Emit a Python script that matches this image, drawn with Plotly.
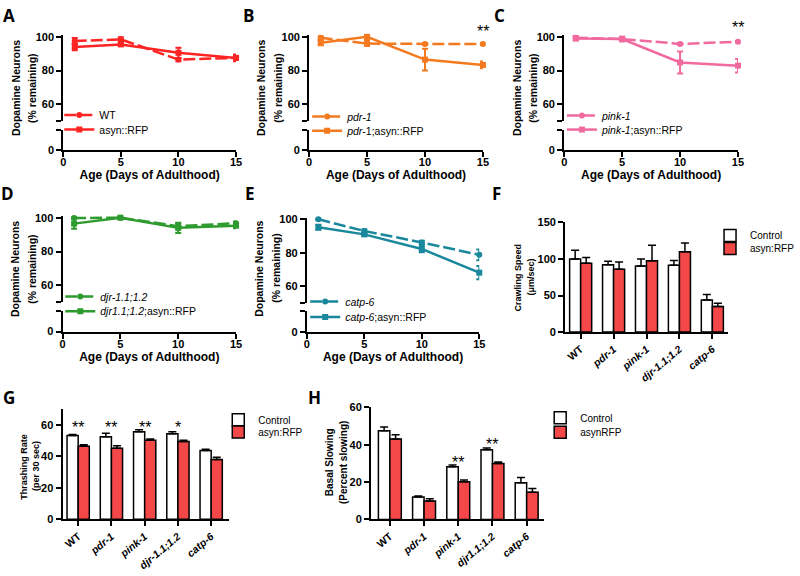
import plotly.graph_objects as go

W, H = 800, 576
def fx(px): return px / W
def fy(py): return 1 - py / H

FONT = "Liberation Sans, Arial, sans-serif"

# ---------------- data ----------------
days = [1, 5, 10, 15]

# Panel A
a_wt = [97.5, 98.5, 86.5, 87.5]
a_wt_err = [1.8, 1.2, 1.0, 1.0]
a_syn = [94.0, 95.5, 90.5, 87.5]
a_syn_err = [2.0, 1.0, 3.0, 2.0]
# Panel B
b_pdr = [99.5, 96.0, 95.8, 95.7]
b_pdr_err = [1.0, 1.5, 0.5, 0.5]
b_syn = [96.5, 100.0, 86.5, 83.3]
b_syn_err = [1.5, 2.0, 6.5, 2.0]
# Panel C
c_pink = [99.5, 98.7, 95.8, 97.1]
c_pink_err = [1.0, 1.0, 0.5, 0.5]
c_syn = [99.0, 98.7, 84.8, 82.9]
c_syn_err = [1.0, 1.5, 6.5, 4.0]
# Panel D
d_djr = [99.8, 100.0, 95.0, 96.7]
d_djr_err = [0.5, 0.5, 1.5, 1.0]
d_syn = [96.5, 100.0, 94.0, 95.3]
d_syn_err = [3.0, 0.5, 3.0, 1.5]
# Panel E
e_catp = [100.0, 93.0, 86.2, 78.8]
e_catp_err = [0.5, 1.0, 1.0, 3.2]
e_syn = [95.2, 91.0, 82.3, 68.2]
e_syn_err = [1.5, 1.0, 2.0, 4.0]

strains = ["WT", "pdr-1", "pink-1", "djr-1.1;1.2", "catp-6"]
tick_FG = ["WT", "<i>pdr-1</i>", "<i>pink-1</i>", "<i>djr-1.1;1.2</i>", "<i>catp-6</i>"]
tick_H = ["WT", "<i>pdr-1</i>", "<i>pink-1</i>", "<i>djr1.1;1.2</i>", "<i>catp-6</i>"]

# Panel F crawling speed
f_ctrl = [100.0, 92.0, 90.5, 91.5, 44.0]
f_ctrl_err = [12.0, 5.0, 9.5, 6.5, 7.5]
f_syn = [94.0, 86.0, 97.6, 109.7, 35.0]
f_syn_err = [8.0, 9.8, 21.0, 12.0, 4.4]
# Panel G thrashing
g_ctrl = [53.3, 52.5, 55.7, 54.3, 43.7]
g_ctrl_err = [0.6, 2.2, 1.2, 1.3, 0.8]
g_syn = [46.5, 45.2, 50.2, 49.5, 38.0]
g_syn_err = [0.8, 1.6, 0.8, 0.8, 1.5]
g_stars = ["**", "**", "**", "*"]
g_star_y = [58.5, 58.5, 58.5, 58.5]
# Panel H basal slowing
h_ctrl = [47.5, 12.0, 28.2, 37.3, 19.7]
h_ctrl_err = [2.0, 0.5, 1.0, 1.0, 2.8]
h_syn = [43.1, 9.9, 20.2, 29.9, 14.6]
h_syn_err = [2.3, 1.2, 0.9, 0.9, 2.0]
h_star_cats = ["pink-1", "djr-1.1;1.2"]
h_star_y = [30.5, 40.0]

zeros5 = [0, 0, 0, 0, 0]

col_A = "#FF2424"
col_B = "#F47A20"
col_C = "#F06A9E"
col_D = "#2E9B2E"
col_E = "#1A889C"
RED_BAR = "#F44848"

def xn(i): return "xaxis" if i == 1 else f"xaxis{i}"
def yn(i): return "yaxis" if i == 1 else f"yaxis{i}"
def xr(i): return "x" if i == 1 else f"x{i}"
def yr(i): return "y" if i == 1 else f"y{i}"
def ln(i): return "legend" if i == 1 else f"legend{i}"

axis_common = dict(showgrid=False, zeroline=False, showline=True, linecolor="black",
                   linewidth=2, ticks="outside", ticklen=5, tickwidth=2, tickcolor="black",
                   tickfont=dict(family=FONT, size=11, color="black", weight="bold"))

fig = go.Figure()
layout = dict(width=W, height=H, margin=dict(l=0, r=0, t=0, b=0),
              paper_bgcolor="white", plot_bgcolor="white", showlegend=True,
              barmode="group", bargap=0.33, bargroupgap=0,
              font=dict(family=FONT, color="black"))
annotations = []
leg_count = [0]

def new_legend(px, py, size=10.5):
    leg_count[0] += 1
    name = ln(leg_count[0])
    layout[name] = dict(x=fx(px), y=fy(py), xanchor="left", yanchor="middle",
                        bgcolor="rgba(0,0,0,0)", borderwidth=0, itemwidth=30,
                        font=dict(family=FONT, size=size, color="black"))
    return name

line_panels = [
    dict(xa=1, yu=1, yl=2, xpx=(61, 236), p100=31.5, p50=117.5, lo=(126.2, 147.3), col=col_A,
         names=["WT", "asyn::RFP"], y1=a_wt, e1=a_wt_err, y2=a_syn, e2=a_syn_err,
         legx=57, legy=(111.2, 126.2), tx=(13, 30), ty=84),
    dict(xa=2, yu=3, yl=4, xpx=(310, 486), p100=31.5, p50=117.5, lo=(126.2, 147.3), col=col_B,
         names=["<i>pdr-1</i>", "<i>pdr</i>-1;asyn::RFP"], y1=b_pdr, e1=b_pdr_err, y2=b_syn, e2=b_syn_err,
         legx=308, legy=(112.8, 127.5), tx=(262, 279), ty=84),
    dict(xa=3, yu=5, yl=6, xpx=(568.3, 744.3), p100=31.5, p50=117.5, lo=(126.2, 147.3), col=col_C,
         names=["<i>pink-1</i>", "<i>pink-1</i>;asyn::RFP"], y1=c_pink, e1=c_pink_err, y2=c_syn, e2=c_syn_err,
         legx=566, legy=(111.8, 126.2), tx=(520.3, 537.3), ty=84),
    dict(xa=4, yu=7, yl=8, xpx=(60.3, 236), p100=216.2, p50=302.7, lo=(311.7, 332.5), col=col_D,
         names=["<i>djr-1.1;1.2</i>", "<i>djr1.1;1.2</i>;asyn::RFP"], y1=d_djr, e1=d_djr_err, y2=d_syn, e2=d_syn_err,
         legx=58, legy=(296.8, 311.8), tx=(12.3, 29.3), ty=268.5),
    dict(xa=5, yu=9, yl=10, xpx=(307.7, 482.3), p100=217.8, p50=303.5, lo=(311.7, 333), col=col_E,
         names=["<i>catp-6</i>", "<i>catp-6</i>;asyn::RFP"], y1=e_catp, e1=e_catp_err, y2=e_syn, e2=e_syn_err,
         legx=306, legy=(301.8, 317.5), tx=(259.7, 276.7), ty=268),
]

for p in line_panels:
    unit = (p["p50"] - p["p100"]) / 50.0
    top = p["p100"] - 1.0 * unit
    layout[xn(p["xa"])] = dict(axis_common, domain=[fx(p["xpx"][0]), fx(p["xpx"][1])], range=[0, 15],
                               anchor=yr(p["yl"]), tickvals=[0, 5, 10, 15], ticklabelstandoff=-4,
                               title=dict(text="Age (Days of Adulthood)", standoff=2,
                                          font=dict(family=FONT, size=12, color="black", weight="bold")))
    layout[yn(p["yu"])] = dict(axis_common, domain=[fy(p["p50"]), fy(top)], range=[50, 101],
                               anchor=xr(p["xa"]), tickvals=[50, 60, 80, 100], ticktext=["", "60", "80", "100"])
    layout[yn(p["yl"])] = dict(axis_common, domain=[fy(p["lo"][1]), fy(p["lo"][0])], range=[0, 12],
                               anchor=xr(p["xa"]), tickvals=[0, 12], ticktext=["0", ""])
    series = [(p["y1"], p["e1"], p["names"][0], "12px,4px", "circle", p["legy"][0]),
              (p["y2"], p["e2"], p["names"][1], "solid", "square", p["legy"][1])]
    for vals, errs, nm, dash, sym, ly in series:
        lg = new_legend(p["legx"], ly)
        fig.add_trace(go.Scatter(
            x=days, y=vals, xaxis=xr(p["xa"]), yaxis=yr(p["yu"]), name=nm, legend=lg,
            mode="lines+markers", cliponaxis=False,
            line=dict(color=p["col"], width=2.5, dash=dash),
            marker=dict(symbol=sym, size=6, color=p["col"]),
            error_y=dict(type="data", array=errs, color=p["col"], thickness=2, width=3)))
    # same series bound to the lower (broken) segment; values lie outside its range so nothing shows,
    # but it makes the lower axis segment part of the panel
    fig.add_trace(go.Scatter(x=days, y=p["y2"], xaxis=xr(p["xa"]), yaxis=yr(p["yl"]), mode="lines",
                             line=dict(color=p["col"], width=2.5), showlegend=False, hoverinfo="skip",
                             cliponaxis=True))
    for txt, tx in [("Dopamine Neurons", p["tx"][0]), ("(% remaining)", p["tx"][1])]:
        annotations.append(dict(text=txt, x=fx(tx), y=fy(p["ty"]), xref="paper", yref="paper",
                                textangle=-90, showarrow=False, xanchor="center", yanchor="middle",
                                font=dict(family=FONT, size=10.5, color="black", weight="bold")))

# significance on B and C (above the plotted range, so placed in page coordinates vertically)
annotations.append(dict(text="**", x=15, y=fy(26.3), xref="x2", yref="paper", showarrow=False,
                        yanchor="middle", font=dict(family=FONT, size=16, color="black")))
annotations.append(dict(text="**", x=15, y=fy(22.0), xref="x3", yref="paper", showarrow=False,
                        yanchor="middle", font=dict(family=FONT, size=16, color="black")))

bar_panels = [
    dict(xa=6, ya=11, xpx=(569.3, 734), ypx=(333, 221), rng=[0, 150], dtick=50, xr_=[-0.47, 4.47],
         ctrl=f_ctrl, ce=f_ctrl_err, syn=f_syn, se=f_syn_err, names=["Control", "asyn:RFP"], ticks=tick_FG,
         legx=716, legy=(234.3, 247.7), t1="Crawling Speed", t2="(\u03bcm/sec)", tx=(521.7, 535), ty=277, tsize=9),
    dict(xa=7, ya=12, xpx=(60.3, 229), ypx=(524.3, 411.7), rng=[0, 70], dtick=20, xr_=[-0.47, 4.54],
         ctrl=g_ctrl, ce=g_ctrl_err, syn=g_syn, se=g_syn_err, names=["Control", "asyn:RFP"], ticks=tick_FG,
         legx=218, legy=(422.5, 435), t1="Thrashing Rate", t2="(per 30 sec)", tx=(21.7, 33.3), ty=470, tsize=9),
    dict(xa=8, ya=13, xpx=(372.7, 548.3), ypx=(524.3, 410), rng=[0, 60], dtick=20, xr_=[-0.55, 4.52],
         ctrl=h_ctrl, ce=h_ctrl_err, syn=h_syn, se=h_syn_err, names=["Control", "asynRFP"], ticks=tick_H,
         legx=544, legy=(420.5, 435.2), t1="Basal Slowing", t2="(Percent slowing)", tx=(330, 345), ty=466, tsize=10),
]

for p in bar_panels:
    layout[xn(p["xa"])] = dict(axis_common, domain=[fx(p["xpx"][0]), fx(p["xpx"][1])], type="category",
                               range=p["xr_"], anchor=yr(p["ya"]), tickvals=strains, ticktext=p["ticks"],
                               tickangle=-40)
    layout[xn(p["xa"])]["tickfont"] = dict(family=FONT, size=10.5, color="black", weight="bold")
    layout[yn(p["ya"])] = dict(axis_common, domain=[fy(p["ypx"][0]), fy(p["ypx"][1])], range=p["rng"],
                               dtick=p["dtick"], tick0=0, anchor=xr(p["xa"]))
    for vals, errs, nm, colr, ly in [(p["ctrl"], p["ce"], p["names"][0], "white", p["legy"][0]),
                                     (p["syn"], p["se"], p["names"][1], RED_BAR, p["legy"][1])]:
        lg = new_legend(p["legx"], ly, size=10)
        fig.add_trace(go.Bar(x=strains, y=vals, name=nm, xaxis=xr(p["xa"]), yaxis=yr(p["ya"]),
                             legend=lg, marker=dict(color=colr, line=dict(color="black", width=1.5)),
                             error_y=dict(type="data", symmetric=False, array=errs, arrayminus=zeros5,
                                          color="black", thickness=1.5, width=4)))
    for txt, tx in [(p["t1"], p["tx"][0]), (p["t2"], p["tx"][1])]:
        annotations.append(dict(text=txt, x=fx(tx), y=fy(p["ty"]), xref="paper", yref="paper",
                                textangle=-90, showarrow=False, xanchor="center", yanchor="middle",
                                font=dict(family=FONT, size=p["tsize"], color="black", weight="bold")))

for cat, s, yv in zip(strains, g_stars, g_star_y):
    annotations.append(dict(text=s, x=cat, y=yv, xref="x7", yref="y12", showarrow=False,
                            font=dict(family=FONT, size=16, color="black")))
for cat, yv in zip(h_star_cats, h_star_y):
    annotations.append(dict(text="**", x=cat, y=yv, xref="x8", yref="y13", showarrow=False,
                            font=dict(family=FONT, size=16, color="black")))

letters = [("A", 6, 9.5), ("B", 249, 9.5), ("C", 503, 9.5), ("D", 5, 192), ("E", 250, 192),
           ("F", 500, 192), ("G", 6, 399.5), ("H", 315, 399.5)]
for t, lx, ly in letters:
    annotations.append(dict(text=t, x=fx(lx), y=fy(ly), xref="paper", yref="paper", showarrow=False,
                            xanchor="center", yanchor="middle",
                            font=dict(family="Open Sans, sans-serif", size=17, color="black", weight="bold")))

layout["annotations"] = annotations
fig.update_layout(**layout)
fig.write_html("out.html", config={"displayModeBar": False},
               post_script="document.body.style.margin='0';document.body.style.overflow='hidden';")
